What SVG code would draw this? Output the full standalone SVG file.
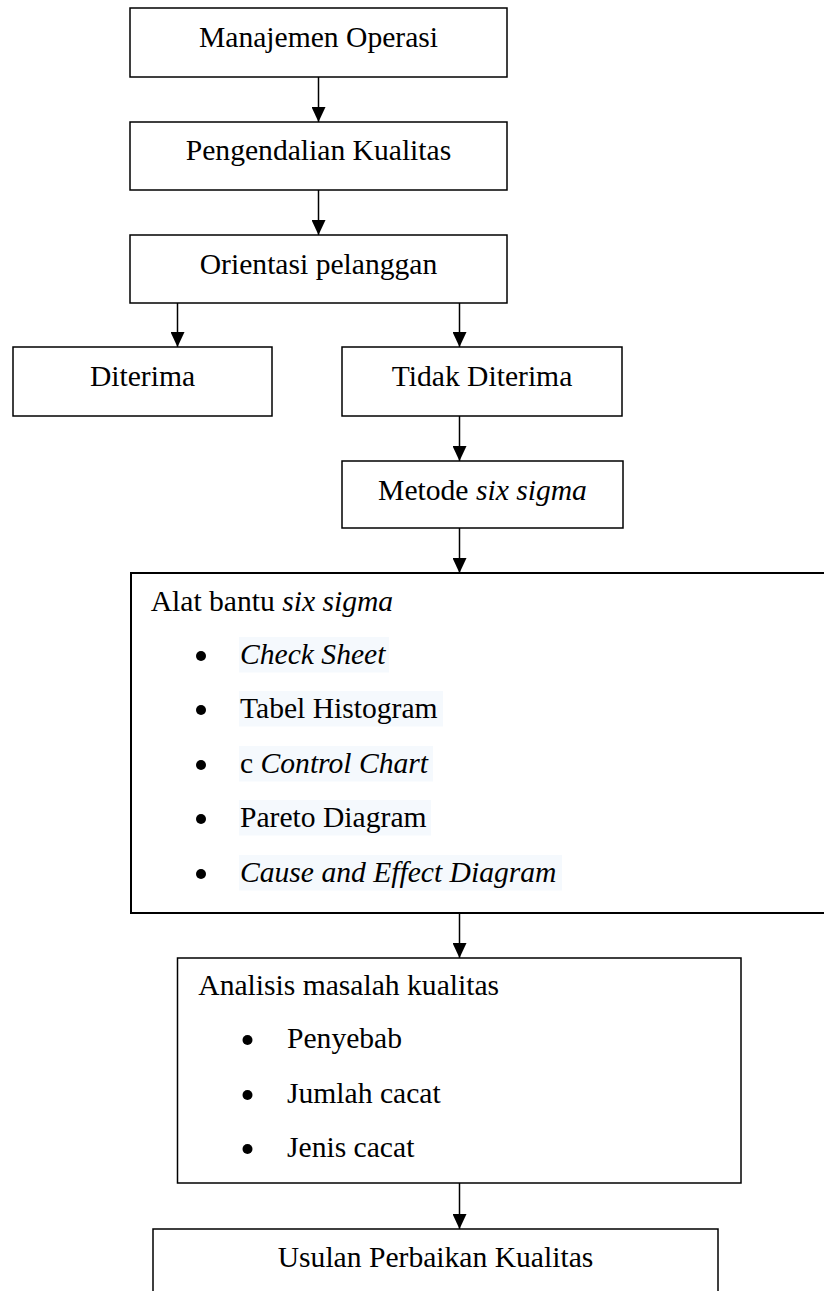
<svg xmlns="http://www.w3.org/2000/svg" width="824" height="1291" viewBox="0 0 824 1291">
<style>
.box{fill:#fff;stroke:#000;stroke-width:1.5}
.big{fill:#fff;stroke:#000;stroke-width:2}
.t{font-family:"Liberation Serif","Times New Roman",serif;font-size:29.6px;fill:#000}
.c{text-anchor:middle}
.i{font-style:italic}
.hl{fill:#f5f9fd}
.con{stroke:#000;stroke-width:1.5;fill:none;marker-end:url(#ah)}
</style>
<defs>
<marker id="ah" markerUnits="userSpaceOnUse" viewBox="0 0 15 14" refX="15" refY="7" markerWidth="15" markerHeight="14" orient="auto">
<path d="M0,0 L15,7 L0,14 z" fill="#000"/>
</marker>
</defs>
<rect width="824" height="1291" fill="#fff"/>
<g id="connectors">
<line class="con" x1="318.5" y1="77" x2="318.5" y2="122"/>
<line class="con" x1="318.5" y1="190" x2="318.5" y2="235"/>
<line class="con" x1="177.5" y1="303" x2="177.5" y2="347"/>
<line class="con" x1="459.5" y1="303" x2="459.5" y2="347"/>
<line class="con" x1="459.5" y1="416" x2="459.5" y2="461"/>
<line class="con" x1="459.5" y1="528" x2="459.5" y2="573"/>
<line class="con" x1="459.5" y1="913" x2="459.5" y2="958"/>
<line class="con" x1="459.5" y1="1183" x2="459.5" y2="1229"/>
</g>
<g id="n1">
<rect class="box" x="130" y="8" width="377" height="69"/>
<text class="t c" x="318.5" y="47">Manajemen Operasi</text>
</g>
<g id="n2">
<rect class="box" x="130" y="122" width="377" height="68"/>
<text class="t c" x="318.5" y="160">Pengendalian Kualitas</text>
</g>
<g id="n3">
<rect class="box" x="130" y="235" width="377" height="68"/>
<text class="t c" x="318.5" y="274">Orientasi pelanggan</text>
</g>
<g id="n4">
<rect class="box" x="13" y="347" width="259" height="69"/>
<text class="t c" x="142.5" y="386">Diterima</text>
</g>
<g id="n5">
<rect class="box" x="342" y="347" width="280" height="69"/>
<text class="t c" x="482" y="386">Tidak Diterima</text>
</g>
<g id="n6">
<rect class="box" x="342" y="461" width="281" height="67"/>
<text class="t c" x="482.5" y="500">Metode <tspan class="i">six sigma</tspan></text>
</g>
<g id="n7">
<rect class="big" x="131" y="573" width="700" height="340"/>
<text class="t" x="150.7" y="610.7">Alat bantu <tspan class="i">six sigma</tspan></text>
<rect class="hl" x="239" y="637" width="150" height="35.5"/>
<rect class="hl" x="239" y="691" width="204" height="35.5"/>
<rect class="hl" x="239" y="746" width="194" height="35.5"/>
<rect class="hl" x="239" y="800" width="192" height="35.5"/>
<rect class="hl" x="239" y="855" width="323" height="35.5"/>
<circle cx="201" cy="656" r="5"/>
<circle cx="201" cy="710" r="5"/>
<circle cx="201" cy="765" r="5"/>
<circle cx="201" cy="819" r="5"/>
<circle cx="201" cy="874" r="5"/>
<text class="t i" x="240" y="664">Check Sheet</text>
<text class="t" x="240" y="718">Tabel Histogram</text>
<text class="t" x="240" y="773">c <tspan class="i">Control Chart</tspan></text>
<text class="t" x="240" y="827">Pareto Diagram</text>
<text class="t i" x="240" y="882">Cause and Effect Diagram</text>
</g>
<g id="n8">
<rect class="box" x="177.5" y="958" width="563.5" height="225"/>
<text class="t" x="198.3" y="995">Analisis masalah kualitas</text>
<circle cx="247.5" cy="1040" r="5"/>
<circle cx="247.5" cy="1095" r="5"/>
<circle cx="247.5" cy="1149" r="5"/>
<text class="t" x="287" y="1048">Penyebab</text>
<text class="t" x="287" y="1103">Jumlah cacat</text>
<text class="t" x="287" y="1157">Jenis cacat</text>
</g>
<g id="n9">
<rect class="box" x="153" y="1229" width="565" height="100"/>
<text class="t c" x="435.5" y="1267">Usulan Perbaikan Kualitas</text>
</g>
</svg>
